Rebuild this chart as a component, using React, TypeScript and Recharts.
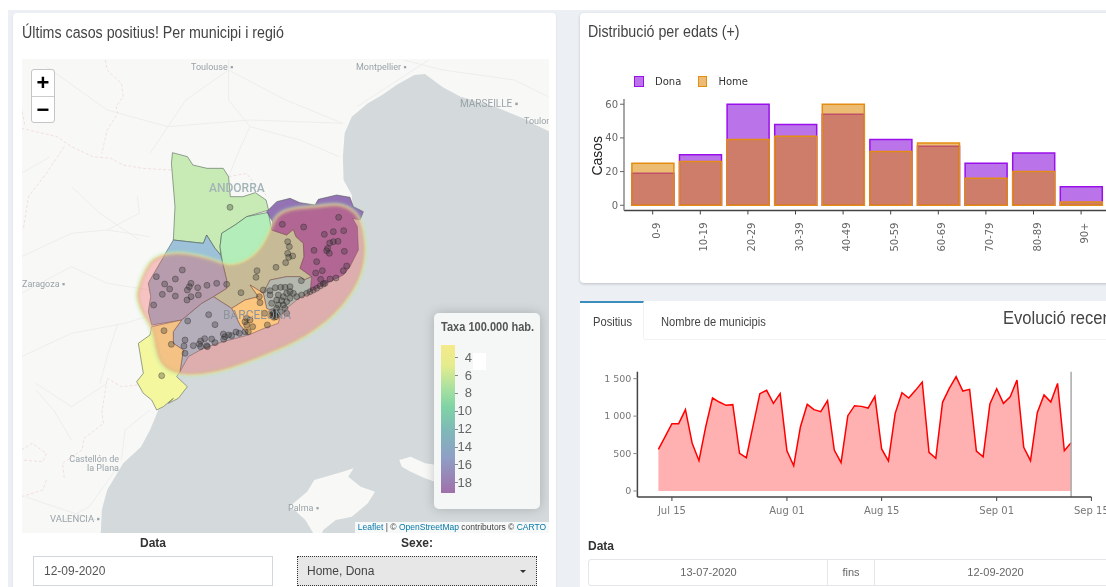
import React from "react";
import { AreaChart, Area, BarChart, Bar, ScatterChart, Scatter, XAxis, YAxis, ReferenceLine, Legend } from "recharts";

// ---------- age distribution ----------
const ageGroups = ["0-9", "10-19", "20-29", "30-39", "40-49", "50-59", "60-69", "70-79", "80-89", "90+"];
const donaCases = [19, 30, 60, 48, 54, 39, 35, 25, 31, 11];
const homeCases = [25, 26, 39, 41, 60, 32, 37, 16, 20, 2];
const ageTicks = [0, 20, 40, 60];

// ---------- recent evolution (day 1 = 1 July) ----------
const firstDay = 13;
const positives = [556, 725, 899, 899, 1086, 636, 405, 859, 1242, 1188, 1144, 1153, 503, 445, 872, 1300, 1344, 1170, 1300, 538, 338, 859, 1157, 1086, 1059, 1206, 547, 378, 1006, 1139, 1130, 1108, 1264, 561, 401, 1037, 1313, 1242, 1344, 1455, 516, 436, 1184, 1371, 1526, 1335, 1357, 534, 458, 1162, 1366, 1170, 1259, 1482, 583, 405, 1046, 1282, 1188, 1437, 538, 645];
const dayTicks = [15, 32, 46, 63, 77];
const dayLabels = ["Jul 15", "Aug 01", "Aug 15", "Sep 01", "Sep 15"];
const valueTicks = [0, 500, 1000, 1500];

// ---------- map geometry, in map units ----------
type P = number[];
const wide = (pts: P[]) => pts.map(([x, y]) => [x * 1.0714 - 390, y - 540]);
const low = (pts: P[]) => pts.map(([x, y]) => [x * 1.0714 - 390, y + 330]);

const seaOutline: P[] = [
  ...wide([[1540, 395], [1500, 375], [1465, 355], [1430, 340], [1390, 322], [1340, 305], [1290, 290], [1240, 262], [1190, 222], [1160, 225], [1110, 255], [1070, 285], [1030, 310], [985, 350], [965, 400], [960, 470], [962, 540], [985, 585]]),
  [668, 80], [700, 95], [690, 120], [668, 115], [682, 140], [685, 210], [660, 260], [640, 285], [610, 300], [570, 320], [540, 335], [500, 360], [470, 385], [450, 410], [445, 430], [410, 442], [355, 465], [280, 485], [220, 505], [175, 530], [150, 575], [140, 590], [172, 620], [145, 655], [115, 670], [130, 655], [100, 680], [85, 690],
  ...low([[420, 420], [395, 470], [345, 520], [300, 600], [285, 660], [282, 735], [1540, 735]]),
];
const mallorca: P[] = low([[810, 650], [860, 605], [880, 570], [960, 545], [990, 535], [975, 560], [1010, 590], [1050, 605], [1030, 640], [985, 680], [940, 690], [905, 720], [900, 735], [880, 735], [855, 690], [830, 665]]);
const menorca: P[] = low([[1118, 510], [1150, 500], [1190, 520], [1225, 525], [1225, 578], [1190, 565], [1150, 545], [1125, 530]]);
const roads: P[][] = [
  wide([[640, 180], [640, 300], [700, 380], [670, 450], [640, 530]]),
  wide([[130, 200], [300, 330], [470, 380], [700, 360], [960, 370]]),
  wide([[960, 370], [800, 300], [640, 210]]),
  wide([[60, 770], [200, 700], [300, 690], [420, 710]]),
  wide([[300, 690], [390, 640], [385, 590]]),
  wide([[60, 520], [140, 470]]),
  wide([[1200, 180], [1100, 250], [1000, 320]]),
  wide([[60, 880], [200, 800], [300, 850], [420, 870]]),
  wide([[640, 210], [520, 300], [470, 380], [420, 460]]),
  wide([[700, 380], [840, 420], [950, 470]]),
  wide([[1130, 180], [1240, 210], [1440, 240], [1535, 290]]),
  wide([[200, 560], [280, 640], [390, 720]]),
  low([[60, 200], [200, 130], [350, 100], [410, 80]]),
  low([[100, 300], [150, 360], [200, 450]]),
  low([[300, 280], [200, 350], [100, 280]]),
  low([[330, 530], [250, 650], [180, 690]]),
  low([[330, 100], [300, 200], [280, 280]]),
  low([[900, 600], [950, 640], [1020, 620]]),
  low([[420, 360], [350, 420], [340, 510]]),
  low([[70, 620], [180, 660], [270, 690]]),
];
const frontiers: P[][] = [
  wide([[60, 385], [100, 395], [160, 410], [200, 440], [260, 470], [310, 475], [345, 495], [400, 505], [480, 510]]),
  wide([[640, 530], [690, 520], [720, 560], [750, 590]]),
  wide([[295, 180], [300, 210], [340, 250], [345, 290], [325, 320], [330, 340], [300, 390], [285, 460]]),
  wide([[60, 320], [70, 380]]),
  wide([[180, 440], [130, 520], [80, 590], [65, 690]]),
  low([[385, 285], [340, 290], [300, 265], [285, 370], [290, 400], [235, 445], [230, 480], [175, 520], [180, 565]]),
  low([[60, 480], [90, 460], [130, 490], [120, 515], [60, 510]]),
  low([[60, 620], [120, 600], [130, 570]]),
];
const altPirineu: P[] = [
  ...wide([[483, 458], [525, 470], [540, 495], [580, 505], [625, 505], [640, 530], [645, 590], [680, 590], [715, 578], [745, 600], [752, 630]]),
  [350, 110], [315, 135], [275, 160], [270, 200], [272, 225], [255, 205], [230, 165], [220, 190], [130, 180],
  ...wide([[490, 620], [480, 490]]),
];
const central: P[] = [[278, 250], [290, 300], [290, 325], [250, 350], [305, 385], [345, 360], [385, 350], [360, 315], [372, 322], [400, 340], [420, 300], [470, 290], [510, 290], [522, 300], [545, 290], [510, 265], [522, 230], [520, 190], [498, 170], [490, 148], [470, 165], [425, 150], [415, 97], [350, 110], [315, 135], [275, 160], [270, 200]];
const girona: P[] = [[410, 95], [440, 65], [480, 55], [510, 68], [555, 75], [565, 58], [620, 45], [660, 52], [670, 80], [700, 95], [690, 120], [668, 115], [682, 140], [685, 210], [660, 260], [640, 285], [610, 300], [570, 320], [540, 335], [545, 290], [510, 265], [522, 230], [520, 190], [498, 170], [490, 148], [470, 165], [425, 150], [428, 125]];
const metroNord: P[] = [[400, 340], [420, 300], [470, 290], [510, 290], [522, 300], [545, 290], [540, 335], [500, 360], [470, 385], [450, 410], [440, 400], [410, 385]];
const metroSud: P[] = [[360, 315], [372, 322], [400, 340], [410, 385], [440, 400], [450, 410], [445, 430], [410, 442], [355, 465], [330, 435], [305, 385], [345, 360], [385, 350]];
const campTarragona: P[] = [[130, 455], [155, 420], [215, 370], [250, 350], [305, 385], [330, 435], [355, 465], [280, 485], [220, 505], [175, 530], [150, 575], [160, 510], [130, 490]];
const lleida: P[] = [[105, 222], [130, 180], [220, 190], [230, 165], [255, 205], [272, 225], [278, 250], [290, 300], [290, 325], [250, 350], [215, 370], [155, 420], [65, 435], [55, 395], [62, 350], [55, 310], [60, 300], [100, 232]];
const ebre: P[] = [[65, 440], [155, 420], [130, 455], [130, 490], [160, 510], [150, 575], [140, 590], [172, 620], [145, 655], [115, 670], [130, 655], [100, 680], [80, 690], [65, 660], [40, 640], [20, 605], [40, 580], [25, 490], [60, 465]];
const heatBlob: P[] = [[22, 330], [55, 238], [110, 220], [170, 218], [250, 238], [290, 258], [340, 250], [392, 212], [422, 150], [438, 100], [500, 82], [560, 82], [622, 68], [676, 92], [696, 130], [708, 200], [700, 272], [665, 344], [614, 404], [564, 444], [504, 484], [404, 526], [302, 566], [220, 584], [150, 586], [94, 562], [76, 510], [68, 442], [36, 402], [20, 352]];
const municipalities: P[] = [
  [300, 82], [457, 133], [521, 141], [626, 112], [583, 163], [610, 155], [641, 152], [552, 211], [643, 214], [599, 189], [610, 185], [624, 184], [593, 205], [590, 212], [598, 220], [560, 245], [557, 279], [577, 272], [640, 272], [650, 258], [572, 298], [585, 310], [600, 297], [618, 294], [580, 312],
  [473, 185], [478, 200], [473, 220], [488, 228], [476, 232], [467, 248], [438, 262], [381, 272], [378, 292], [333, 338], [388, 350], [390, 368],
  [514, 302], [480, 320], [465, 322], [452, 322], [436, 323], [420, 332], [420, 345], [400, 330], [445, 345], [460, 350], [440, 360], [470, 340], [480, 335], [490, 340], [425, 370], [445, 375], [460, 375], [470, 365], [455, 362], [480, 355], [500, 350], [515, 345], [530, 340], [540, 335], [550, 330], [560, 325], [570, 318], [465, 385], [470, 400], [450, 395], [440, 385],
  [430, 400], [435, 405], [425, 405], [432, 412], [438, 410], [428, 395], [436, 398], [441, 404], [430, 408], [434, 401],
  [350, 415], [345, 425], [360, 420], [350, 435], [368, 440], [345, 455], [355, 455], [412, 435], [404, 400],
  [79, 290], [157, 270], [136, 297], [104, 312], [119, 327], [97, 343], [136, 348], [71, 375], [183, 310], [178, 320], [172, 330], [203, 323], [231, 316], [260, 310], [290, 313], [183, 350], [171, 360], [205, 345],
  [102, 452], [124, 493], [95, 587], [165, 480], [162, 498], [165, 520],
  [236, 404], [173, 423], [255, 434], [190, 497], [212, 483], [224, 476], [245, 477], [230, 497], [212, 500], [232, 500], [255, 488], [280, 462], [296, 465], [285, 470], [281, 478], [318, 456], [328, 460], [305, 467], [208, 492],
];
const rateTicks = ["4", "6", "8", "10", "12", "14", "16", "18"];

const barRows = ageGroups.map((g, i) => ({ group: g, Dona: donaCases[i], Home: homeCases[i] }));
const lineRows = positives.map((v, i) => ({ day: firstDay + i, value: v }));
const toRows = (pts: P[]) => pts.map(([x, y]) => ({ x, y }));
const closed = (pts: P[]) => toRows([...pts, pts[0]]);

const SANS = "'Liberation Sans', Arial, sans-serif";
const DEJA = "'DejaVu Sans', sans-serif";
const noMark = () => <g />;

function shape(key: string, rows: { x: number; y: number }[], line: any, joint: any = "linear") {
  return <Scatter key={key} data={rows} shape={noMark} line={line} lineJointType={joint} isAnimationActive={false} legendType="none" />;
}

function MapChart() {
  const region = (key: string, pts: P[], fill: string) =>
    shape(key, closed(pts), { fill, fillOpacity: 0.88, stroke: "#4e5a52", strokeWidth: 0.7, strokeOpacity: 0.8 });
  return (
    <ScatterChart width={527} height={474} margin={{ top: 0, right: 0, bottom: 0, left: 0 }} style={{ position: "absolute", left: 0, top: 0 }}>
      <XAxis type="number" dataKey="x" domain={[-324, 1257]} hide allowDataOverflow />
      <YAxis type="number" dataKey="y" domain={[-363, 1059]} reversed hide allowDataOverflow />
      {roads.map((r, i) => shape("road" + i, toRows(r), { fill: "none", stroke: "#ececeb", strokeWidth: 0.9 }))}
      {frontiers.map((r, i) => shape("front" + i, toRows(r), { fill: "none", stroke: "#f4dfe0", strokeWidth: 1, strokeDasharray: "3 2" }))}
      {shape("sea", toRows(seaOutline), { fill: "#d4dadc", stroke: "none" })}
      {shape("mallorca", closed(mallorca), { fill: "#f8f8f7", stroke: "none" })}
      {shape("menorca", closed(menorca), { fill: "#f8f8f7", stroke: "none" })}
      {region("alt", altPirineu, "#c0e8ac")}
      {region("central", central, "#a8eab0")}
      {region("girona", girona, "#8560ac")}
      {region("metroNord", metroNord, "#8ce6d8")}
      {region("metroSud", metroSud, "#fffc88")}
      {region("camp", campTarragona, "#8ad5ea")}
      {region("lleida", lleida, "#8fb8d4")}
      {region("ebre", ebre, "#f2f692")}
      {shape("rimGreen", toRows(heatBlob), { fill: "none", stroke: "#a6eeb0", strokeWidth: 5, strokeOpacity: 0.35, style: { filter: "blur(1.5px)" } }, "basisClosed")}
      {shape("rimYellow", toRows(heatBlob), { fill: "none", stroke: "#f6ee96", strokeWidth: 2.5, strokeOpacity: 0.55, style: { filter: "blur(0.8px)" } }, "basisClosed")}
      {shape("blob", toRows(heatBlob), { fill: "#f54848", fillOpacity: 0.3, stroke: "none", style: { filter: "blur(1px)" } }, "basisClosed")}
      <Scatter
        data={toRows(municipalities)}
        isAnimationActive={false}
        legendType="none"
        shape={(p: any) => <circle cx={p.cx} cy={p.cy} r={3} fill="#333" fillOpacity={0.32} stroke="#222" strokeOpacity={0.5} strokeWidth={0.7} />}
      />
    </ScatterChart>
  );
}

function BarLegend(props: any) {
  const items = props.payload || [];
  return (
    <div style={{ display: "flex", fontFamily: DEJA, fontSize: 10, color: "#333", alignItems: "center", height: 13 }}>
      {items.map((it: any, i: number) => (
        <div key={it.value} style={{ display: "flex", alignItems: "center", width: i === 0 ? 64 : 50 }}>
          <span style={{ width: 8, height: 9, marginRight: 11, border: `1.5px solid ${it.value === "Dona" ? "#9a10ea" : "#e38d12"}`, background: it.value === "Dona" ? "#bb73ea" : "#ecbc74", display: "inline-block" }} />
          {it.value}
        </div>
      ))}
    </div>
  );
}

function AgeChart() {
  return (
    <BarChart width={535} height={220} data={barRows} barSize={42} barGap={-42} margin={{ top: 39, right: 5.2, bottom: 0, left: 0 }} style={{ position: "absolute", left: 580, top: 60 }}>
      <XAxis dataKey="group" interval={0} height={69.5} padding={{ left: 4.9, right: 4.9 }} angle={-90} textAnchor="end" tickSize={4} tickMargin={8} axisLine={{ stroke: "#444", strokeWidth: 1.5 }} tickLine={{ stroke: "#444" }} tick={{ fontFamily: DEJA, fontSize: 10, fill: "#666" }} />
      <YAxis type="number" domain={[-3.1, 63.1]} ticks={ageTicks} width={44} tickSize={4} axisLine={{ stroke: "#888", strokeWidth: 1.5 }} tickLine={{ stroke: "#666" }} tick={{ fontFamily: DEJA, fontSize: 10, fill: "#666" }} label={{ value: "Casos", angle: -90, position: "insideLeft", offset: 17, dy: 1, style: { fontFamily: SANS, fontSize: 14, fill: "#222", textAnchor: "middle" } }} />
      <Legend layout="horizontal" verticalAlign="middle" align="center" content={BarLegend} wrapperStyle={{ left: 54, top: 15, width: "auto" }} />
      <Bar dataKey="Dona" fill="rgb(131,0,216)" fillOpacity={0.55} stroke="#9a10ea" strokeWidth={1.5} isAnimationActive={false} />
      <Bar dataKey="Home" fill="rgb(220,133,0)" fillOpacity={0.55} stroke="#e38d12" strokeWidth={1.5} isAnimationActive={false} />
    </BarChart>
  );
}

function EvolutionChart() {
  return (
    <AreaChart width={526} height={170} data={lineRows} margin={{ top: 11.7, right: 14.6, bottom: 0, left: 0 }} style={{ position: "absolute", left: 580, top: 360 }}>
      <XAxis dataKey="day" type="number" domain={[9.9, 77]} ticks={dayTicks} interval={0} allowDataOverflow height={33} tickSize={4} tickMargin={6} tickFormatter={(d: number) => dayLabels[dayTicks.indexOf(d)]} axisLine={{ stroke: "#444", strokeWidth: 1.5 }} tickLine={{ stroke: "#444" }} tick={{ fontFamily: DEJA, fontSize: 10, fill: "#777" }} />
      <YAxis type="number" domain={[-80, 1593]} ticks={valueTicks} interval={0} allowDataOverflow width={57.4} tickSize={4} tickFormatter={(v: number) => (v >= 1000 ? `${Math.floor(v / 1000)} ${String(v % 1000).padStart(3, "0")}` : String(v))} axisLine={{ stroke: "#444", strokeWidth: 1.5 }} tickLine={{ stroke: "#888" }} tick={{ fontFamily: DEJA, fontSize: 9.5, fill: "#777" }} />
      <Area type="linear" dataKey="value" stroke="#ff0000" strokeWidth={1.5} fill="#ffb0b0" fillOpacity={1} isAnimationActive={false} dot={false} />
      <ReferenceLine x={74} stroke="#aaaaaa" strokeWidth={1.5} />
    </AreaChart>
  );
}

const abs = (left: number, top: number, extra: React.CSSProperties = {}): React.CSSProperties => ({ position: "absolute", left, top, ...extra });

function MapLabel({ x, y, text, size = 9, weight = 400, color = "#9aa3a8", right }: { x: number; y: number; text: string; size?: number; weight?: number; color?: string; right?: boolean }) {
  return (
    <div style={{ position: "absolute", top: y - size * 0.62, left: right ? undefined : x, right: right ? 527 - x : undefined, fontFamily: "Roboto, " + SANS, fontSize: size, fontWeight: weight, color, whiteSpace: "nowrap", lineHeight: 1.2 }}>{text}</div>
  );
}

export default function App() {
  const title: React.CSSProperties = { fontFamily: SANS, fontSize: 16, color: "#444", whiteSpace: "nowrap", transformOrigin: "left center" };
  return (
    <div style={{ position: "fixed", left: 0, top: 0, width: 1106, height: 587, overflow: "hidden", background: "#fff", fontFamily: SANS, filter: "blur(0.3px)" }}>
      <div style={abs(8, 10, { width: 1098, height: 577, background: "#ecf0f5" })} />
      {/* left card */}
      <div style={abs(13, 13, { width: 543, height: 590, background: "#fff", borderRadius: 4, boxShadow: "0 1px 2px rgba(0,0,0,.12)" })} />
      <div style={abs(22, 23.5, { ...title, transform: "scaleX(0.89)" })}>Últims casos positius! Per municipi i regió</div>
      {/* map */}
      <div style={abs(22, 59, { width: 527, height: 474, background: "#f8f8f7", overflow: "hidden" })}>
        <MapChart />
        <MapLabel x={169} y={9} text="Toulouse ▪" />
        <MapLabel x={334} y={9} text="Montpellier ▪" />
        <MapLabel x={438} y={45} text="MARSEILLE ▪" size={10} />
        <MapLabel x={502} y={63} text="Toulon" />
        <MapLabel x={187} y={129} text="ANDORRA" size={12} weight={500} color="#a3b4b6" />
        <MapLabel x={0} y={226} text="Zaragoza ▪" />
        <MapLabel x={201} y={256} text="BARCELONA" size={12} color="#8d959c" />
        <MapLabel x={97} y={401} text="Castellón de" right />
        <MapLabel x={97} y={410} text="la Plana" right />
        <MapLabel x={266} y={450} text="Palma ▪" />
        <MapLabel x={28} y={460} text="VALENCIA ▪" size={9.5} />
        {/* zoom control */}
        <div style={abs(9, 10, { width: 24, height: 54, background: "#fff", border: "1.5px solid #c5c5c5", borderRadius: 3, boxSizing: "border-box", fontFamily: SANS, color: "#000", fontWeight: 700, fontSize: 22, textAlign: "center" })}>
          <div style={{ height: 26, lineHeight: "26px", borderBottom: "1px solid #ccc" }}>+</div>
          <div style={{ height: 25, lineHeight: "25px" }}>−</div>
        </div>
        {/* colour legend */}
        <div style={abs(412, 254, { width: 106, height: 196, background: "#f5f7f7", borderRadius: 5, boxShadow: "0 0 12px rgba(0,0,0,.2)" })}>
          <div style={abs(7, 7, { fontSize: 12, fontWeight: 700, color: "#555", whiteSpace: "nowrap", transform: "scaleX(.92)", transformOrigin: "left" })}>Taxa 100.000 hab.</div>
          <div style={abs(7, 32, { width: 13.6, height: 148, background: "linear-gradient(#f5ea8a 0%, #e4ec8e 14%, #a6e0a0 30%, #7fd3a5 42%, #7fb8b8 58%, #8f9fc6 76%, #a070aa 100%)" })} />
          {rateTicks.map((t, i) => (
            <React.Fragment key={t}>
              <div style={abs(20.6, 44 + i * 17.9, { width: 3, height: 1, background: "#888" })} />
              <div style={abs(20, 36.6 + i * 17.9, { width: 18, textAlign: "right", fontSize: 13, color: "#666", lineHeight: "15px" })}>{t}</div>
            </React.Fragment>
          ))}
          <div style={abs(39, 40, { width: 13, height: 17, background: "#fff" })} />
        </div>
        {/* attribution */}
        <div style={abs(333, 463, { width: 194, height: 11, background: "rgba(255,255,255,.8)", fontSize: 8.5, lineHeight: "11px", color: "#444", textAlign: "center", whiteSpace: "nowrap", overflow: "hidden" })}>
          <span style={{ color: "#0078a8" }}>Leaflet</span> | © <span style={{ color: "#0078a8" }}>OpenStreetMap</span> contributors © <span style={{ color: "#0078a8" }}>CARTO</span>
        </div>
      </div>
      {/* left inputs */}
      <div style={abs(33, 536, { width: 240, textAlign: "center", fontSize: 12, fontWeight: 700, color: "#333" })}>Data</div>
      <div style={abs(297, 536, { width: 240, textAlign: "center", fontSize: 12, fontWeight: 700, color: "#333" })}>Sexe:</div>
      <div style={abs(33, 556, { width: 240, height: 30, boxSizing: "border-box", border: "1px solid #d2d6de", fontSize: 12, lineHeight: "28px", paddingLeft: 10, color: "#555" })}>12-09-2020</div>
      <div style={abs(297, 556, { width: 240, height: 30, boxSizing: "border-box", border: "1px dotted #333", background: "#e7e7e7", fontSize: 12, lineHeight: "28px", paddingLeft: 9, color: "#444" })}>
        Home, Dona
        <div style={abs(222, 13, { width: 0, height: 0, borderLeft: "3px solid transparent", borderRight: "3px solid transparent", borderTop: "3px solid #333" })} />
      </div>
      {/* age card */}
      <div style={abs(580, 13, { width: 540, height: 270, background: "#fff", borderRadius: 4, boxShadow: "0 1px 3px rgba(0,0,0,.2)" })} />
      <div style={abs(588, 23, { ...title, transform: "scaleX(0.89)" })}>Distribució per edats (+)</div>
      <AgeChart />
      {/* evolution card */}
      <div style={abs(580, 301, { width: 540, height: 300, background: "#fff" })} />
      <div style={abs(580, 301, { width: 64, height: 38, boxSizing: "border-box", borderTop: "2.5px solid #3c8dbc", borderRight: "1px solid #f2f2f2" })} />
      <div style={abs(644, 338.5, { width: 470, height: 1, background: "#f2f2f2" })} />
      <div style={abs(593, 315, { fontSize: 12, color: "#444", transform: "scaleX(.93)", transformOrigin: "left" })}>Positius</div>
      <div style={abs(660.5, 315, { fontSize: 12, color: "#444", transform: "scaleX(.93)", transformOrigin: "left", whiteSpace: "nowrap" })}>Nombre de municipis</div>
      <div style={abs(1003, 308, { fontSize: 18, color: "#444", whiteSpace: "nowrap", transform: "scaleX(.92)", transformOrigin: "left" })}>Evolució recent</div>
      <EvolutionChart />
      <div style={abs(588, 539, { fontSize: 12, fontWeight: 700, color: "#333" })}>Data</div>
      <div style={abs(588, 559, { width: 530, height: 27, boxSizing: "border-box", border: "1px solid #e4e6ea", borderRadius: 3, background: "#fff" })} />
      <div style={abs(827, 559, { width: 48, height: 27, boxSizing: "border-box", borderLeft: "1px solid #e4e6ea", borderRight: "1px solid #e4e6ea", textAlign: "center", fontSize: 11, lineHeight: "27px", color: "#666" })}>fins</div>
      <div style={abs(589, 559, { width: 239, textAlign: "center", fontSize: 11, lineHeight: "27px", color: "#666" })}>13-07-2020</div>
      <div style={abs(875, 559, { width: 241, textAlign: "center", fontSize: 11, lineHeight: "27px", color: "#666" })}>12-09-2020</div>
    </div>
  );
}
